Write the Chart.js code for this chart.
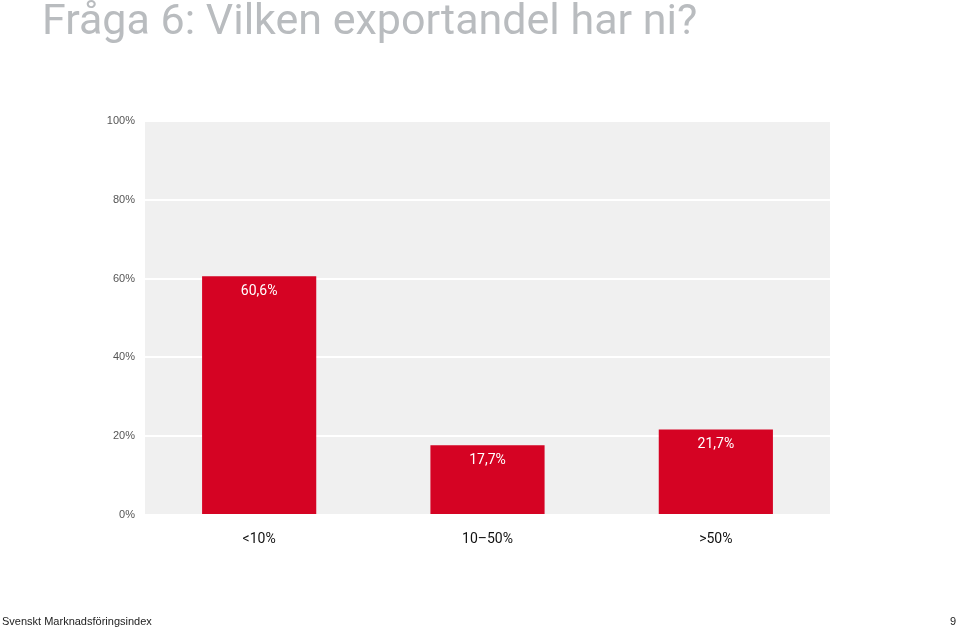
<!DOCTYPE html>
<html>
<head>
<meta charset="utf-8">
<script src="https://cdn.jsdelivr.net/npm/chart.js@4"></script>
<style>
  body { margin: 0; background: #fff; width: 960px; height: 631px; overflow: hidden; position: relative; font-family: "Liberation Sans Narrow", "Roboto", sans-serif; }
  #title { position: absolute; left: 42px; top: -6px; font-size: 43px; color: #b9bcbf; white-space: nowrap; }
  #foot { position: absolute; left: 2px; top: 615px; font-size: 11px; color: #222; font-family: "Liberation Sans", sans-serif; }
  #page { position: absolute; right: 4px; top: 615px; font-size: 11px; color: #222; font-family: "Liberation Sans", sans-serif; }
  #wrap { position: absolute; left: 0; top: 0; width: 960px; height: 631px; }
</style>
</head>
<body>
<div id="wrap"><canvas id="c"></canvas></div>
<div id="title">Fråga 6: Vilken exportandel har ni?</div>
<div id="foot">Svenskt Marknadsföringsindex</div>
<div id="page">9</div>
<script>
const categories = ['<10%', '10–50%', '>50%'];
const values = [60.6, 17.7, 21.7];
const valueLabels = ['60,6%', '17,7%', '21,7%'];

const bgPlugin = {
  id: 'bg',
  beforeDraw(chart) {
    const { ctx, chartArea: a } = chart;
    ctx.save();
    ctx.fillStyle = '#f0f0f0';
    ctx.fillRect(a.left, a.top, a.right - a.left, a.bottom - a.top);
    ctx.restore();
  },
  afterDatasetsDraw(chart) {
    const { ctx } = chart;
    ctx.save();
    ctx.fillStyle = '#fff';
    ctx.font = '14px "Liberation Sans Narrow", Roboto, sans-serif';
    ctx.textAlign = 'center';
    ctx.textBaseline = 'top';
    chart.getDatasetMeta(0).data.forEach((bar, i) => {
      ctx.fillText(valueLabels[i], bar.x, bar.y + 8);
    });
    ctx.restore();
  }
};

new Chart(document.getElementById('c'), {
  type: 'bar',
  data: {
    labels: categories,
    datasets: [{ data: values, backgroundColor: '#d50323', barPercentage: 0.5, categoryPercentage: 1 }]
  },
  options: {
    responsive: true,
    maintainAspectRatio: false,
    animation: false,
    layout: { padding: { top: 121, right: 130, left: 0, bottom: 0 } },
    plugins: { legend: { display: false }, tooltip: { enabled: false } },
    scales: {
      y: {
        min: 0, max: 100,
        ticks: { stepSize: 20, callback: v => v + '%', color: '#555', font: { size: 11, family: 'Liberation Sans' }, padding: 10 },
        grid: { color: '#fff', lineWidth: 2, drawTicks: false },
        border: { display: false },
        afterFit(s) { s.width = 145; }
      },
      x: {
        ticks: { color: '#111', font: { size: 14, family: '"Liberation Sans Narrow", Roboto, sans-serif' }, padding: 8 },
        grid: { display: false },
        border: { display: false },
        afterFit(s) { s.height = 116; }
      }
    }
  },
  plugins: [bgPlugin]
});
</script>
</body>
</html>
